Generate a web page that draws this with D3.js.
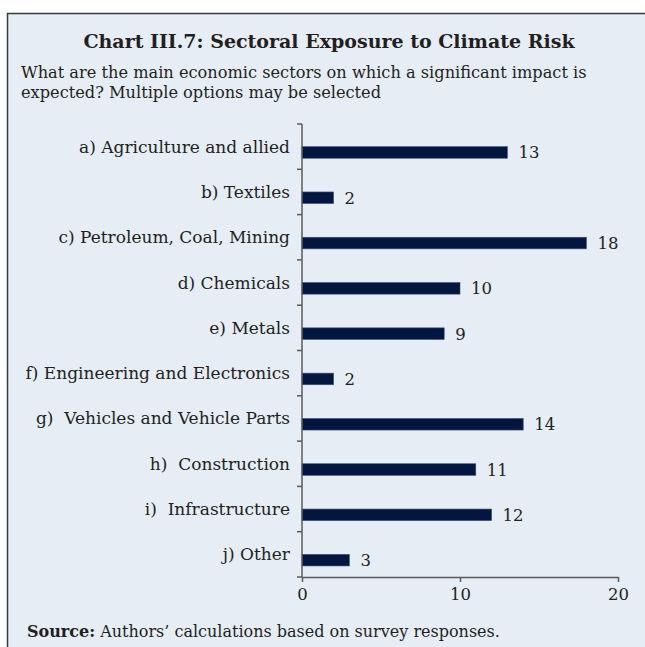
<!DOCTYPE html>
<html>
<head>
<meta charset="utf-8">
<script src="https://cdn.jsdelivr.net/npm/d3@7"></script>
<style>
  html, body { margin: 0; padding: 0; background: #ffffff; }
  svg { display: block; }
  text { font-family: "DejaVu Serif", serif; fill: #231f20; }
</style>
</head>
<body>
<svg id="chart" width="645" height="647"></svg>
<script>
// Survey: sectors expected to face significant climate impact
const categories = [
  "a) Agriculture and allied",
  "b) Textiles",
  "c) Petroleum, Coal, Mining",
  "d) Chemicals",
  "e) Metals",
  "f) Engineering and Electronics",
  "g)  Vehicles and Vehicle Parts",
  "h)  Construction",
  "i)  Infrastructure",
  "j) Other"
];
const responses = [13, 2, 18, 10, 9, 2, 14, 11, 12, 3];
const xTicks = [0, 10, 20];

const titleText = "Chart III.7: Sectoral Exposure to Climate Risk";
const subtitleLines = [
  "What are the main economic sectors on which a significant impact is",
  "expected? Multiple options may be selected"
];
const sourceLabel = "Source:";
const sourceText = " Authors\u2019 calculations based on survey responses.";

const svg = d3.select("#chart");

// Panel background with top/left frame
svg.append("rect")
  .attr("x", 7.5).attr("y", 13.5)
  .attr("width", 700).attr("height", 700)
  .attr("fill", "#e6edf5")
  .attr("stroke", "#3a3a3a")
  .attr("stroke-width", 1.5);

svg.append("text")
  .attr("x", 329).attr("y", 48)
  .attr("text-anchor", "middle")
  .attr("font-weight", "bold")
  .attr("font-size", 19)
  .text(titleText);

svg.selectAll("text.subtitle")
  .data(subtitleLines)
  .join("text")
  .attr("class", "subtitle")
  .attr("x", 21)
  .attr("y", (d, i) => 77.5 + i * 20)
  .attr("font-size", 16.2)
  .text(d => d);

const margin = { left: 302, right: 618, top: 124, bottom: 577 };

const x = d3.scaleLinear().domain([0, 20]).range([margin.left, margin.right]);
const y = d3.scaleBand().domain(categories).range([margin.top, margin.bottom]);

const barH = 11.6;
const axisColor = "#5a5a5a";

// Bars
svg.selectAll("rect.bar")
  .data(categories)
  .join("rect")
  .attr("class", "bar")
  .attr("x", x(0))
  .attr("y", d => y(d) + y.bandwidth() / 2)
  .attr("width", (d, i) => x(responses[i]) - x(0))
  .attr("height", barH)
  .attr("fill", "#021640")
  .attr("stroke", "#3d5478")
  .attr("stroke-width", 0.6);

// Value labels
svg.selectAll("text.value")
  .data(categories)
  .join("text")
  .attr("class", "value")
  .attr("x", (d, i) => x(responses[i]) + 11)
  .attr("y", d => y(d) + y.bandwidth() / 2 + barH / 2 + 6)
  .attr("font-size", 16.5)
  .text((d, i) => responses[i]);

// Category labels
svg.selectAll("text.cat")
  .data(categories)
  .join("text")
  .attr("class", "cat")
  .attr("x", 290)
  .attr("y", d => y(d) + y.bandwidth() / 2 + 6)
  .attr("text-anchor", "end")
  .attr("font-size", 17)
  .attr("xml:space", "preserve")
  .style("white-space", "pre")
  .text(d => d);

// Y axis line with ticks on the category boundaries
const bounds = categories.map(d => y(d)).concat([y.range()[1]]);
svg.append("line")
  .attr("x1", x(0)).attr("x2", x(0))
  .attr("y1", margin.top).attr("y2", margin.bottom)
  .attr("stroke", axisColor).attr("stroke-width", 1.5);
svg.selectAll("line.ytick")
  .data(bounds)
  .join("line")
  .attr("class", "ytick")
  .attr("x1", x(0) - 5).attr("x2", x(0))
  .attr("y1", d => d).attr("y2", d => d)
  .attr("stroke", axisColor).attr("stroke-width", 1.5);

// X axis
const xAxis = svg.append("g")
  .attr("transform", `translate(0,${margin.bottom})`)
  .call(d3.axisBottom(x).tickValues(xTicks).tickSize(5).tickSizeOuter(0).tickPadding(6));
xAxis.select(".domain").attr("stroke", axisColor).attr("stroke-width", 1.5);
xAxis.selectAll(".tick line").attr("stroke", axisColor).attr("stroke-width", 1.5);
xAxis.selectAll(".tick text")
  .attr("font-family", "DejaVu Serif, serif")
  .attr("font-size", 16.5)
  .attr("fill", "#231f20");

// Source note
const src = svg.append("text").attr("x", 27).attr("y", 637).attr("font-size", 16);
src.append("tspan").attr("font-weight", "bold").text(sourceLabel);
src.append("tspan").text(sourceText);
</script>
</body>
</html>
